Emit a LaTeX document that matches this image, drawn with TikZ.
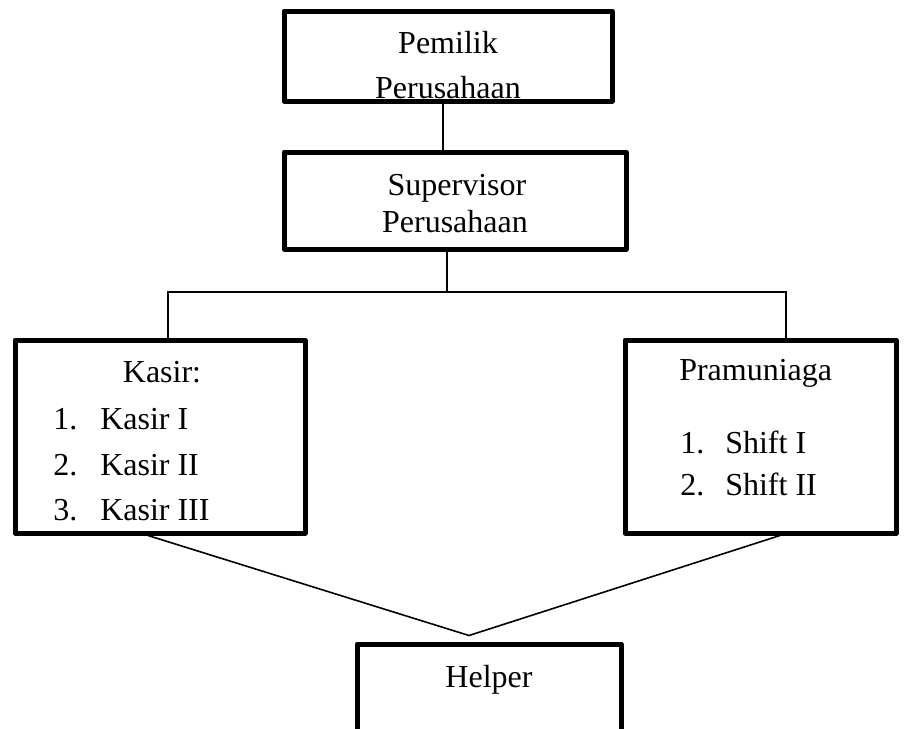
\documentclass[tikz,border=0pt]{standalone}
\usepackage{fontspec}
\setmainfont{Liberation Serif}
\usetikzlibrary{positioning,calc}
\tikzset{
  orgbox/.style={draw, rectangle, line width=3.75pt, line join=round, inner sep=0pt},
  link/.style={line width=1.2pt},
  boxtext/.style={inner sep=0pt, anchor=base, font=\fontsize{24}{29}\selectfont},
  itemtext/.style={inner sep=0pt, anchor=base west, font=\fontsize{24}{29}\selectfont},
}

\begin{document}
\begin{tikzpicture}[x=0.75pt, y=-0.75pt]
\useasboundingbox (0,0) rectangle (908,729);
\clip (0,0) rectangle (908,729);
% ---- boxes --------------------------------------------------------
\node[orgbox, minimum width=246pt, minimum height=67.5pt] (pemilik) at (448,56) {};
\node[orgbox, minimum width=256.5pt, minimum height=72.75pt] (supervisor) at (455,200.5) {};
\node[orgbox, minimum width=217.5pt, minimum height=144.75pt] (kasir) at (160,436.5) {};
\node[orgbox, minimum width=203.25pt, minimum height=144.75pt] (pramuniaga) at (760.5,436.5) {};
\node[orgbox, minimum width=198pt, minimum height=117pt] (helper) at (489,722) {};
% ---- box texts ----------------------------------------------------
\node[boxtext] (pemilikA) at (448,53) {Pemilik};
\node[boxtext] (pemilikB) at (448,98) {Perusahaan};
\node[boxtext] (supervisorA) at (457,195) {Supervisor};
\node[boxtext] (supervisorB) at (455,232) {Perusahaan};
\node[boxtext] (kasirhead) at (162,382) {Kasir:};
\node[itemtext] (kasirnA) at (53,429) {1.};
\node[itemtext] (kasirA) at (100,429) {Kasir I};
\node[itemtext] (kasirnB) at (53,475) {2.};
\node[itemtext] (kasirB) at (100,475) {Kasir II};
\node[itemtext] (kasirnC) at (53,520) {3.};
\node[itemtext] (kasirC) at (100,520) {Kasir III};
\node[itemtext] (pramhead) at (679,380) {Pramuniaga};
\node[itemtext] (shiftnA) at (680,453) {1.};
\node[itemtext] (shiftA) at (725,453) {Shift I};
\node[itemtext] (shiftnB) at (680,495) {2.};
\node[itemtext] (shiftB) at (725,495) {Shift II};
\node[boxtext] (helpertext) at (489,687) {Helper};
% ---- connectors ---------------------------------------------------
\coordinate (split) at (447,292);
\coordinate (apex) at ($(helper.north)+(-20,-6)$);
\draw[link] ($(pemilik.south)+(-5,0)$) -- ($(supervisor.north)+(-12,0)$);
\draw[link] ($(supervisor.south)+(-8,0)$) -- (split);
\draw[link] ($(kasir.north)+(8,0)$) |- (split) -| ($(pramuniaga.north)+(25.5,0)$);
\draw[link] ($(kasir.south)+(-12,0)$) -- (apex) -- ($(pramuniaga.south)+(19.5,0)$);
\end{tikzpicture}
\end{document}
